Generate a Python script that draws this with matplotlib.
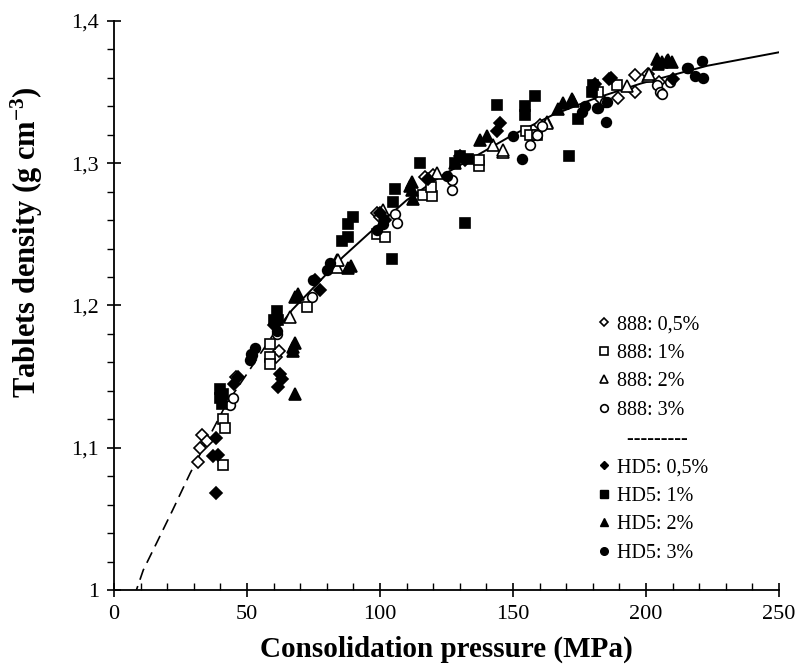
import matplotlib
matplotlib.use("Agg")
import matplotlib.pyplot as plt
from matplotlib.lines import Line2D
from matplotlib.ticker import MultipleLocator, FuncFormatter

plt.rcParams['font.family'] = ['Liberation Serif', 'DejaVu Serif']
plt.rcParams['mathtext.fontset'] = 'custom'
plt.rcParams['mathtext.rm'] = 'Liberation Serif'
plt.rcParams['mathtext.bf'] = 'Liberation Serif:bold'
plt.rcParams['mathtext.it'] = 'Liberation Serif:italic'

# Fitted curve (dashed extrapolation + solid part)
curve_dash_x = [7.5, 11, 16, 22, 28.6, 35, 42, 50, 60]
curve_dash_y = [0.995, 1.014, 1.033, 1.056, 1.082, 1.105, 1.130, 1.152, 1.180]
curve_solid_x = [60, 67, 86, 96, 110, 123, 136, 150, 165, 180, 198, 223, 250]
curve_solid_y = [1.180, 1.197, 1.234, 1.251, 1.274, 1.291, 1.305, 1.320, 1.334, 1.345, 1.356, 1.3685, 1.378]

# 888 series (open markers)
s888_05_x = [33, 32.3, 31.7, 35, 61, 62, 46, 98.8, 100, 117, 120, 160, 183, 189.6, 195.9, 200.9, 205, 196]
s888_05_y = [1.109, 1.100, 1.090, 1.105, 1.164, 1.168, 1.150, 1.265, 1.262, 1.290, 1.292, 1.327, 1.345, 1.3458, 1.362, 1.363, 1.357, 1.350]
s888_1_x = [40.9, 41.7, 41.1, 58.6, 58.6, 58.6, 72.7, 99, 101.9, 116.3, 119.4, 119, 137.3, 137.3, 155, 156.4, 158.9, 182, 189]
s888_1_y = [1.120, 1.114, 1.088, 1.173, 1.164, 1.159, 1.199, 1.250, 1.248, 1.278, 1.277, 1.283, 1.298, 1.302, 1.323, 1.320, 1.320, 1.350, 1.355]
s888_2_x = [66.2, 83.7, 83.7, 84.3, 101.2, 121.3, 142.6, 146.4, 146.4, 162.7, 162.7, 192.7, 200.9, 201]
s888_2_y = [1.192, 1.232, 1.227, 1.232, 1.267, 1.293, 1.313, 1.308, 1.309, 1.329, 1.328, 1.354, 1.361, 1.363]
s888_3_x = [43.6, 44.9, 61.2, 74.3, 105.6, 106.3, 127, 127, 156.4, 158.9, 160.8, 181.5, 184.6, 204, 205.3, 205.9, 209]
s888_3_y = [1.130, 1.135, 1.180, 1.206, 1.264, 1.258, 1.281, 1.288, 1.313, 1.320, 1.326, 1.339, 1.343, 1.355, 1.3504, 1.349, 1.357]

# HD5 series (filled markers)
hd5_05_x = [38.3, 37.3, 39.2, 38.3, 46.7, 45, 62.4, 61.8, 63, 60, 75.6, 77.4, 100, 101.7, 118, 130, 132, 144, 145.1, 180.8, 185.9, 187, 210.3]
hd5_05_y = [1.107, 1.094, 1.095, 1.068, 1.150, 1.145, 1.152, 1.143, 1.148, 1.186, 1.218, 1.211, 1.265, 1.260, 1.289, 1.305, 1.302, 1.323, 1.328, 1.356, 1.359, 1.360, 1.359]
hd5_1_x = [39.8, 40, 40.6, 41, 61.2, 61.8, 60, 85.6, 88, 88.1, 90, 104.4, 105, 105.6, 115, 128, 130, 133, 132, 143.9, 154.5, 154.5, 158.3, 171.2, 174.5, 179.6, 180.2]
hd5_1_y = [1.141, 1.135, 1.131, 1.138, 1.196, 1.190, 1.190, 1.245, 1.248, 1.257, 1.2625, 1.233, 1.273, 1.282, 1.300, 1.300, 1.305, 1.303, 1.258, 1.341, 1.340, 1.334, 1.347, 1.305, 1.331, 1.350, 1.355]
hd5_2_x = [68, 67.2, 68, 67.4, 68, 69.3, 88.1, 89, 111.3, 112, 111.9, 112.5, 128, 137.6, 140.1, 166.8, 168.9, 172, 172.7, 204, 204.6, 206, 207.8, 208.4, 209.8]
hd5_2_y = [1.1735, 1.168, 1.138, 1.171, 1.206, 1.208, 1.226, 1.228, 1.284, 1.287, 1.281, 1.275, 1.300, 1.316, 1.319, 1.338, 1.342, 1.345, 1.344, 1.373, 1.370, 1.371, 1.3716, 1.3727, 1.371]
hd5_3_x = [51, 51.8, 53, 51.5, 61.2, 74.9, 80, 81.2, 98.8, 101.2, 125, 150.1, 153.3, 175.8, 177, 182, 185, 185.2, 215.3, 215.9, 218.4, 220.9, 221.5]
hd5_3_y = [1.162, 1.165, 1.170, 1.166, 1.182, 1.218, 1.225, 1.230, 1.253, 1.257, 1.291, 1.319, 1.303, 1.336, 1.340, 1.339, 1.329, 1.343, 1.367, 1.367, 1.361, 1.3716, 1.360]

legend_labels = ['888: 0,5%', '888: 1%', '888: 2%', '888: 3%', '  ---------',
                 'HD5: 0,5%', 'HD5: 1%', 'HD5: 2%', 'HD5: 3%']

fig = plt.figure(figsize=(7.99, 6.68), dpi=100)
ax = fig.add_axes([0.1427, 0.1168, 0.8323, 0.8518])

ax.plot(curve_dash_x, curve_dash_y, color='black', lw=1.2, dashes=(7, 4), zorder=1)
ax.plot(curve_solid_x, curve_solid_y, color='black', lw=1.4, zorder=1)

ms = 7
ew = 1.2
series = [
    (s888_05_x, s888_05_y, 'D', 'white', 6.2),
    (s888_1_x, s888_1_y, 's', 'white', ms),
    (s888_2_x, s888_2_y, '^', 'white', ms + 1),
    (s888_3_x, s888_3_y, 'o', 'white', ms),
    (hd5_05_x, hd5_05_y, 'D', 'black', 6.2),
    (hd5_1_x, hd5_1_y, 's', 'black', ms),
    (hd5_2_x, hd5_2_y, '^', 'black', ms + 1),
    (hd5_3_x, hd5_3_y, 'o', 'black', ms),
]
for x, y, m, fc, s in series:
    ax.plot(x, y, linestyle='none', marker=m, markersize=s, markerfacecolor=fc,
            markeredgecolor='black', markeredgewidth=ew, zorder=3)

ax.set_xlim(0, 250)
ax.set_ylim(1.0, 1.4)
ax.xaxis.set_major_locator(MultipleLocator(50))
ax.xaxis.set_minor_locator(MultipleLocator(10))
ax.yaxis.set_major_locator(MultipleLocator(0.1))
ax.yaxis.set_minor_locator(MultipleLocator(0.02))

def yfmt(v, pos):
    s = ('%.1f' % v)
    if s.endswith('.0'):
        s = s[:-2]
    return s.replace('.', ',')

ax.yaxis.set_major_formatter(FuncFormatter(yfmt))
ax.xaxis.set_major_formatter(FuncFormatter(lambda v, p: '%d' % v))

for sp in ['top', 'right']:
    ax.spines[sp].set_visible(False)
for sp in ['left', 'bottom']:
    ax.spines[sp].set_linewidth(1.3)

ax.tick_params(axis='both', which='major', direction='inout', length=10, width=1.2,
               labelsize=16, pad=6)
ax.tick_params(axis='x', which='minor', direction='in', length=5, width=1.0)
ax.tick_params(axis='y', which='minor', direction='out', length=5, width=1.0)

ax.set_xlabel('Consolidation pressure (MPa)', fontsize=21, fontweight='bold', labelpad=8)
ax.set_ylabel(r'Tablets density (g cm$^{\mathbf{-3}}$)', fontsize=22, fontweight='bold')
ax.yaxis.set_label_coords(-0.104, 0.612)

handles = [
    Line2D([], [], ls='none', marker='D', ms=4.5, mfc='white', mec='black', mew=1.2),
    Line2D([], [], ls='none', marker='s', ms=5.5, mfc='white', mec='black', mew=1.2),
    Line2D([], [], ls='none', marker='^', ms=6, mfc='white', mec='black', mew=1.2),
    Line2D([], [], ls='none', marker='o', ms=5.5, mfc='white', mec='black', mew=1.2),
    Line2D([], [], ls='none', marker=None),
    Line2D([], [], ls='none', marker='D', ms=4.5, mfc='black', mec='black'),
    Line2D([], [], ls='none', marker='s', ms=5.5, mfc='black', mec='black'),
    Line2D([], [], ls='none', marker='^', ms=6, mfc='black', mec='black'),
    Line2D([], [], ls='none', marker='o', ms=5.5, mfc='black', mec='black'),
]
leg = ax.legend(handles, legend_labels, loc='upper left', bbox_to_anchor=(0.716, 0.497),
                frameon=False, fontsize=14.5, handlelength=0.6, handletextpad=0.35,
                labelspacing=0.47, borderaxespad=0)

fig.savefig('out.png', dpi=100)
